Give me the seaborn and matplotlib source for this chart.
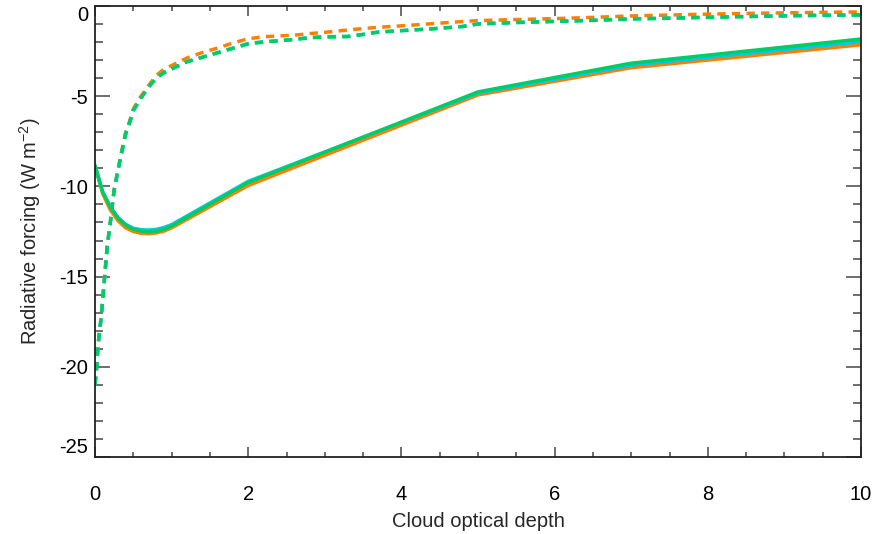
import numpy as np
import pandas as pd
import matplotlib
matplotlib.use("Agg")
import matplotlib.pyplot as plt
import seaborn as sns

# ---- data ----
tau_solid = [0, 0.1, 0.2, 0.3, 0.4, 0.5, 0.6, 0.7, 0.8, 0.9, 1.0, 2.0, 5.0, 7.0, 10.0]
solid_orange = [-8.85, -10.4, -11.3, -11.9, -12.3, -12.5, -12.6, -12.62, -12.58, -12.48, -12.3, -9.95, -4.93, -3.42, -2.15]
solid_cyan = [-8.85, -10.3, -11.15, -11.72, -12.1, -12.32, -12.4, -12.42, -12.38, -12.28, -12.12, -9.72, -4.83, -3.28, -1.98]
solid_green = [-8.85, -10.3, -11.15, -11.75, -12.15, -12.38, -12.48, -12.52, -12.48, -12.38, -12.2, -9.78, -4.76, -3.17, -1.83]

tau_dash = [0, 0.02, 0.04, 0.06, 0.08, 0.1, 0.13, 0.16, 0.2, 0.25, 0.3, 0.35, 0.4, 0.45, 0.5,
            0.6, 0.7, 0.8, 0.9, 1.0, 1.2, 1.4, 1.6, 1.8, 2.0, 2.2, 2.4, 2.6, 2.8, 3.0,
            3.3, 3.5, 3.7, 4.0, 4.4, 4.8, 5.0, 5.5, 6.0, 6.5, 7.0, 7.5, 8.0, 8.5, 9.0, 9.5, 10.0]
dash_orange = [-21.0, -20.1, -18.8, -18.0, -17.3, -16.3, -14.8, -13.3, -12.0, -10.2, -9.1, -8.0, -7.0, -6.4, -5.7,
               -5.0, -4.4, -3.85, -3.5, -3.3, -2.88, -2.58, -2.33, -2.05, -1.82, -1.7, -1.66, -1.62, -1.53, -1.46,
               -1.33, -1.25, -1.18, -1.1, -0.98, -0.86, -0.81, -0.75, -0.7, -0.63, -0.55, -0.5, -0.45, -0.41, -0.38, -0.35, -0.33]
dash_cyan = [-21.0, -20.1, -18.8, -18.0, -17.3, -16.3, -14.8, -13.3, -12.0, -10.2, -9.1, -8.1, -7.1, -6.5, -5.8,
             -5.1, -4.5, -4.0, -3.68, -3.48, -3.08, -2.83, -2.58, -2.33, -2.08, -1.98, -1.92, -1.85, -1.75, -1.7,
             -1.68, -1.57, -1.44, -1.36, -1.26, -1.13, -0.99, -0.91, -0.85, -0.79, -0.71, -0.67, -0.62, -0.58, -0.54, -0.51, -0.49]
dash_green = [-21.0, -20.1, -18.8, -18.0, -17.3, -16.3, -14.8, -13.3, -12.0, -10.2, -9.1, -8.1, -7.1, -6.5, -5.8,
              -5.1, -4.5, -4.0, -3.7, -3.5, -3.1, -2.85, -2.6, -2.35, -2.1, -2.0, -1.93, -1.86, -1.76, -1.72,
              -1.7, -1.58, -1.45, -1.37, -1.27, -1.14, -1.0, -0.92, -0.86, -0.8, -0.72, -0.68, -0.63, -0.59, -0.55, -0.52, -0.5]

x_ticks = [0, 2, 4, 6, 8, 10]
y_ticks = [-25, -20, -15, -10, -5, 0]
x_label = "Cloud optical depth"
y_label = "Radiative forcing (W m$^{-2}$)"

ORANGE = "#FF8000"
CYAN = "#00C8E8"
GREEN = "#00CC66"

# ---- style ----
sns.set_style("ticks")
plt.rcParams["font.family"] = ["Liberation Sans", "DejaVu Sans"]
plt.rcParams["axes.unicode_minus"] = False
plt.rcParams["mathtext.fontset"] = "custom"
plt.rcParams["mathtext.rm"] = "Liberation Sans"
plt.rcParams["mathtext.it"] = "Liberation Sans"

FS = 14.5

fig = plt.figure(figsize=(8.87, 5.34), dpi=100)
ax = fig.add_axes([95 / 887, 1 - 457 / 534, 766 / 887, 451 / 534])

lw = 2.5
for vals, col in [(solid_orange, ORANGE), (solid_cyan, CYAN), (solid_green, GREEN)]:
    sns.lineplot(x=tau_solid, y=vals, ax=ax, color=col, linewidth=lw, sort=False)

for i, (vals, col) in enumerate([(dash_orange, ORANGE), (dash_cyan, CYAN), (dash_green, GREEN)]):
    line = sns.lineplot(x=tau_dash, y=vals, ax=ax, color=col, linewidth=lw, sort=False).lines[-1]
    line.set_dashes((2.4, 1.8))
    line.set_dash_capstyle("butt")

ax.set_xlim(0, 10)
ax.set_ylim(-25, 0)
ax.set_xticks(x_ticks)
ax.set_yticks(y_ticks)
ax.set_xticklabels([str(t) for t in x_ticks])
ax.set_yticklabels([str(t) for t in y_ticks])
ax.xaxis.set_minor_locator(matplotlib.ticker.MultipleLocator(0.5))
ax.yaxis.set_minor_locator(matplotlib.ticker.MultipleLocator(1))

tick_col = "#555555"
ax.tick_params(axis="both", which="both", direction="in", top=True, right=True,
               color=tick_col, width=1.2, labelsize=FS, labelcolor="black")
ax.tick_params(axis="x", which="major", length=7.2, pad=20)
ax.tick_params(axis="x", which="minor", length=3.6)
ax.tick_params(axis="y", which="major", length=10.8, pad=5)
ax.tick_params(axis="y", which="minor", length=5.8)

for s in ax.spines.values():
    s.set_color("#222222")
    s.set_linewidth(1.3)

ax.set_xlabel(x_label, fontsize=FS)
ax.set_ylabel(y_label, fontsize=FS)
ax.xaxis.set_label_coords(0.5, -0.122)
ax.yaxis.set_label_coords(-0.068, 0.5)

# IDL-like placement of the end labels on the y axis
ylabs = ax.get_yticklabels()
ylabs[0].set_va("bottom")
ylabs[-1].set_va("top")

fig.savefig("out.png", dpi=100)
